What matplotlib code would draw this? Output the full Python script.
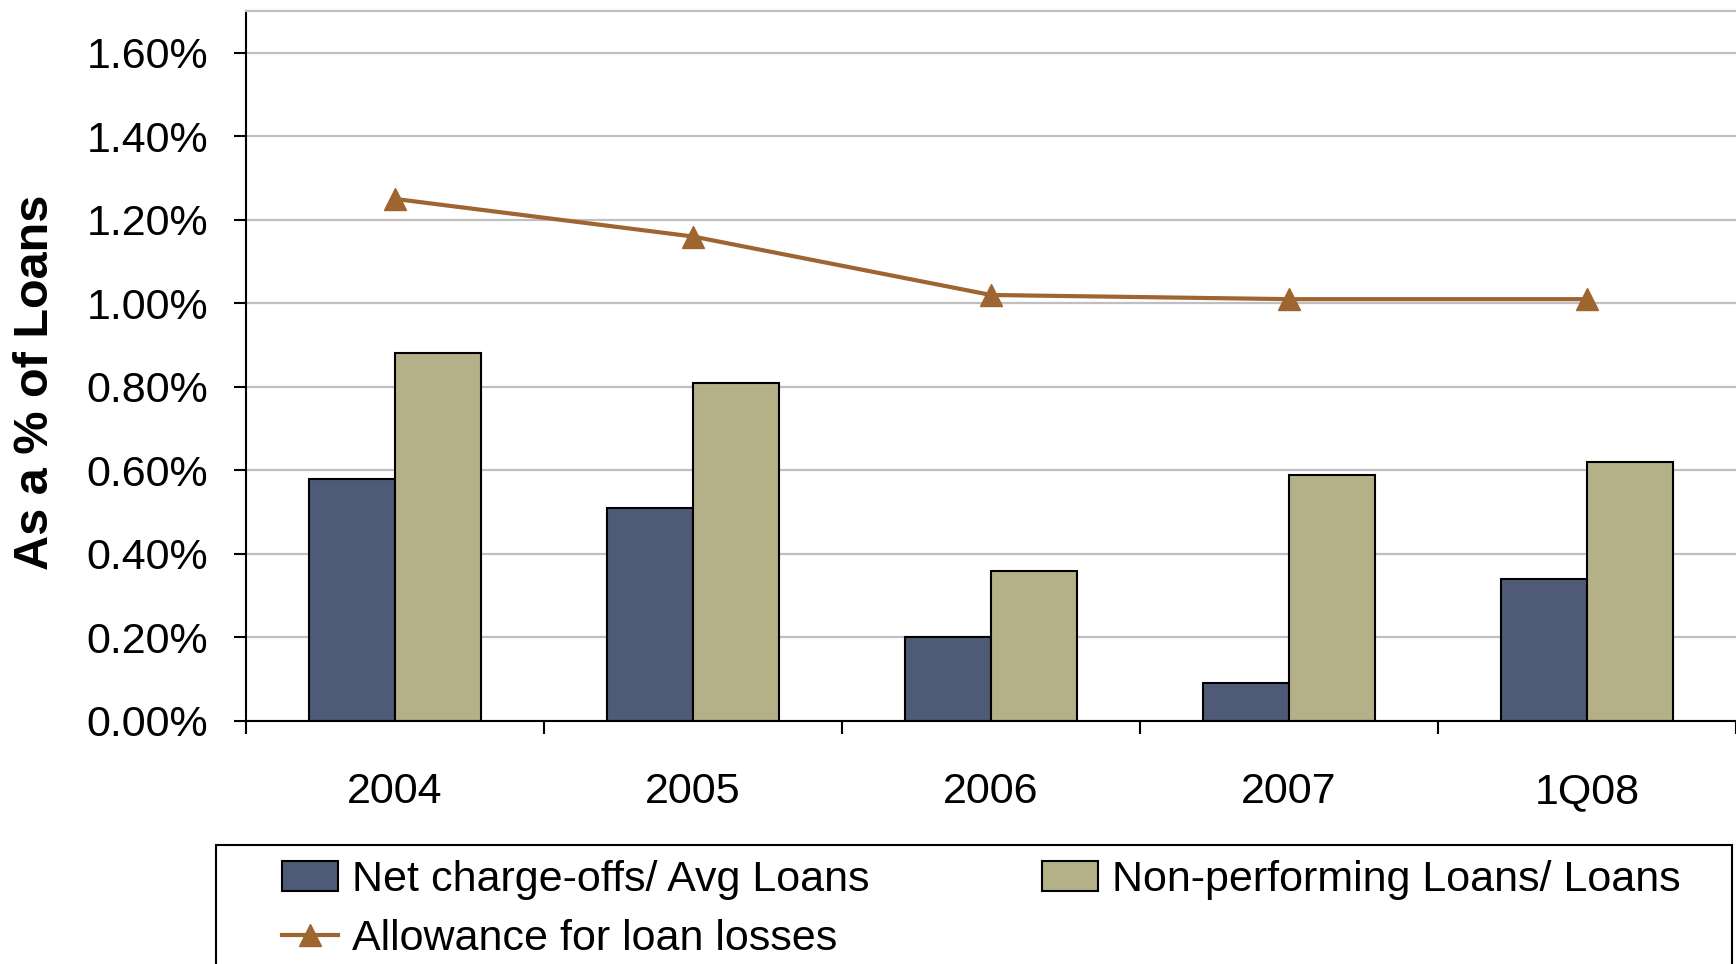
import matplotlib.pyplot as plt
from matplotlib.patches import Rectangle, Patch
from matplotlib.lines import Line2D
import numpy as np

# asset quality ratios, in percent
periods = ["2004", "2005", "2006", "2007", "1Q08"]
net_chargeoffs = [0.58, 0.51, 0.20, 0.09, 0.34]
nonperforming = [0.88, 0.81, 0.36, 0.59, 0.62]
allowance = [1.25, 1.16, 1.02, 1.01, 1.01]
yticks = [0.0, 0.2, 0.4, 0.6, 0.8, 1.0, 1.2, 1.4, 1.6]

navy = "#4F5A77"
tan = "#B4B088"
brown = "#9E6531"

plt.rcParams["font.family"] = ["Liberation Sans", "DejaVu Sans"]

fig = plt.figure(figsize=(17.36, 9.64), dpi=100)
ax = fig.add_axes([0.1417, 0.2521, 1 - 0.1417, 0.9886 - 0.2521])

x = np.arange(len(periods))
w = 0.287
ax.bar(x - w / 2, net_chargeoffs, w, color=navy, edgecolor="black", linewidth=1.5, zorder=2)
ax.bar(x + w / 2, nonperforming, w, color=tan, edgecolor="black", linewidth=1.5, zorder=2)
ax.plot(x, allowance, color=brown, lw=3, marker="^", ms=16, zorder=3)

# plot area is cut off just before the end of the last category
ax.set_xlim(-0.5, 4.46)
ax.set_ylim(0, 1.70)

# category separators as major ticks, names on minor ticks
ax.set_xticks(np.arange(-0.5, len(periods), 1))
ax.set_xticklabels([])
ax.set_xticks(x, minor=True)
ax.set_xticklabels(periods, minor=True)
ax.tick_params(axis="x", which="major", direction="out", length=9, width=1.5)
ax.tick_params(axis="x", which="minor", length=0, pad=37, labelsize=31)

ax.set_yticks(yticks)
ax.set_yticklabels(["%.2f%%" % v for v in yticks])
ax.tick_params(axis="y", direction="out", length=9, width=1.5, pad=18, labelsize=31)

ax.yaxis.grid(True, color="#BFBFBF", lw=1.6)
ax.set_axisbelow(True)
ax.spines["right"].set_visible(False)
ax.spines["top"].set_color("#BFBFBF")
ax.spines["top"].set_linewidth(1.6)
ax.spines["left"].set_linewidth(1.5)
ax.spines["bottom"].set_linewidth(1.5)

fig.text(36 / 1736, 0.6037, "As a % of Loans", rotation=90, ha="center", va="center",
         fontsize=35, fontweight="bold")

# legend box, running off the bottom edge
fig.patches.append(Rectangle((216 / 1736, -0.05), (1732 - 216) / 1736, 0.05 + 1 - 845 / 964,
                             transform=fig.transFigure, fill=False, edgecolor="black", lw=1.5))

# column-wise fill: first column holds the first two handles
handles = [
    Patch(facecolor=navy, edgecolor="black", lw=1.5),
    Line2D([], [], color=brown, lw=3, marker="^", ms=16),
    Patch(facecolor=tan, edgecolor="black", lw=1.5),
]
labels = ["Net charge-offs/ Avg Loans", "Allowance for loan losses", "Non-performing Loans/ Loans"]
fig.legend(handles, labels, loc="upper left", bbox_to_anchor=(282 / 1736, 1 - 860 / 964),
           ncol=2, frameon=False, fontsize=31, borderpad=0, borderaxespad=0,
           handlelength=1.3, handleheight=0.67, handletextpad=0.33,
           columnspacing=4.0, labelspacing=0.45)

fig.savefig("out.png", dpi=100)
